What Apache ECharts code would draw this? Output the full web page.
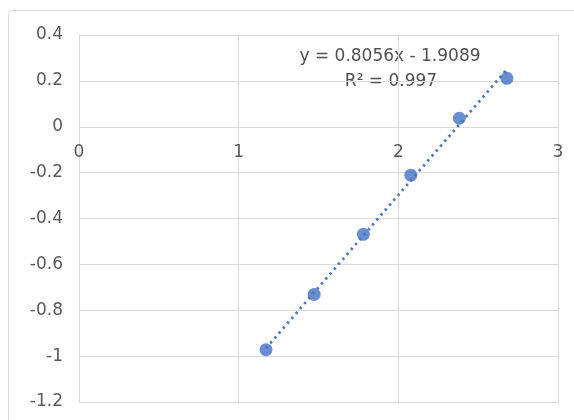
<!DOCTYPE html>
<html>
<head>
<meta charset="utf-8">
<script src="https://cdn.jsdelivr.net/npm/echarts@6/dist/echarts.min.js"></script>
<style>
html,body{margin:0;padding:0;background:#fff;}
#chart{width:574px;height:420px;}
</style>
</head>
<body>
<div id="chart"></div>
<script>
const xValues = [1.171, 1.473, 1.781, 2.078, 2.382, 2.680];
const yValues = [-0.972, -0.731, -0.469, -0.211, 0.037, 0.211];
const slope = 0.8056;
const intercept = -1.9089;
const trendX = [1.171, 2.680];
const equationText = 'y = 0.8056x - 1.9089';
const r2Text = 'R² = 0.997';

const points = xValues.map((x, i) => [x, yValues[i]]);
const trend = trendX.map(x => [x, slope * x + intercept]);

const chart = echarts.init(document.getElementById('chart'));
const labelFont = {color: '#595959', fontSize: 17, fontFamily: 'DejaVu Sans'};
// plot area: top 35, bottom 402 ; y=0 sits at 35 + 367*0.4/1.6 = 126.75
chart.setOption({
  animation: false,
  grid: [
    {left: 79, right: 16, top: 35, bottom: 18, containLabel: false, outerBoundsMode: 'none'},
    {left: 79, right: 16, top: 35, bottom: 293.25, containLabel: false, outerBoundsMode: 'none'}
  ],
  graphic: [{
    type: 'rect', shape: {x: 8.5, y: 10.5, width: 580, height: 430, r: 4},
    style: {fill: 'none', stroke: '#d9d9d9', lineWidth: 1}, z: -1
  }, {
    type: 'text', x: 390, y: 57,
    style: {text: equationText, fill: '#505050', font: '17px "DejaVu Sans"', align: 'center', verticalAlign: 'middle'}
  }, {
    type: 'text', x: 391, y: 82,
    style: {text: r2Text, fill: '#505050', font: '17px "DejaVu Sans"', align: 'center', verticalAlign: 'middle'}
  }],
  xAxis: [{
    type: 'value', gridIndex: 0, min: 0, max: 3, interval: 1,
    axisLine: {show: true, onZero: false, lineStyle: {color: '#d9d9d9'}},
    axisTick: {show: false},
    splitLine: {show: true, lineStyle: {color: '#d9d9d9'}},
    axisLabel: {show: false}
  }, {
    type: 'value', gridIndex: 1, min: 0, max: 3, interval: 1,
    axisLine: {show: false, onZero: false},
    axisTick: {show: false},
    splitLine: {show: false},
    axisLabel: Object.assign({margin: 17}, labelFont)
  }],
  yAxis: [{
    type: 'value', gridIndex: 0, min: -1.2, max: 0.4, interval: 0.2,
    axisLine: {show: true, onZero: false, lineStyle: {color: '#d9d9d9'}},
    axisTick: {show: false},
    splitLine: {show: true, lineStyle: {color: '#d9d9d9'}},
    axisLabel: Object.assign({margin: 16, formatter: v => String(Math.round(v * 10) / 10)}, labelFont)
  }, {
    type: 'value', gridIndex: 1, min: 0, max: 0.4, show: false
  }],
  series: [{
    type: 'line', xAxisIndex: 0, yAxisIndex: 0, data: trend, showSymbol: false, symbol: 'none',
    lineStyle: {color: '#5479b8', width: 2.8, type: [2.5, 4]}, z: 1
  }, {
    type: 'scatter', xAxisIndex: 0, yAxisIndex: 0, data: points, symbolSize: 13,
    itemStyle: {color: '#4472c4'}, z: 2
  }]
});
</script>
</body>
</html>
